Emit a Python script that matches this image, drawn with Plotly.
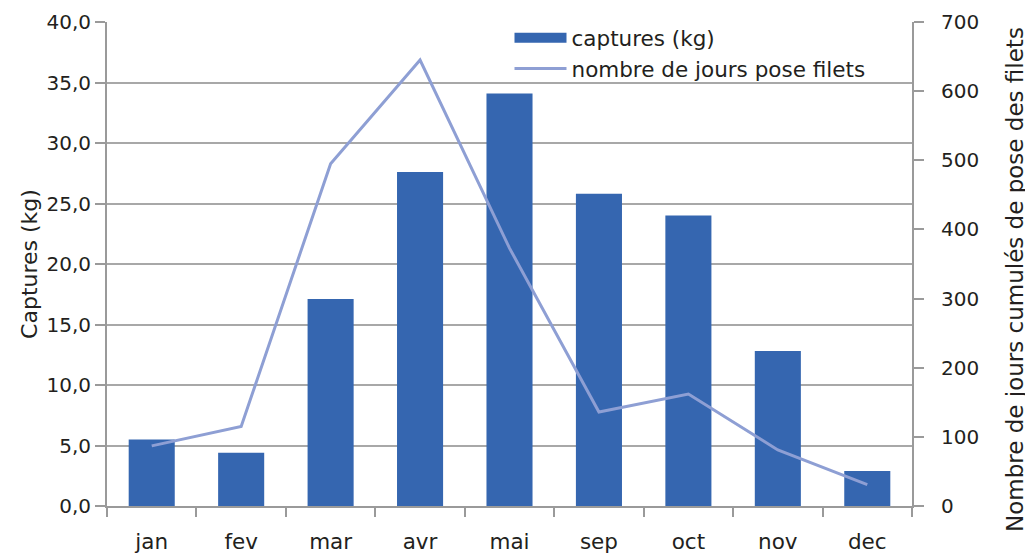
import plotly.graph_objects as go

months = ["jan", "fev", "mar", "avr", "mai", "sep", "oct", "nov", "dec"]
captures_kg = [5.5, 4.4, 17.1, 27.6, 34.1, 25.8, 24.0, 12.8, 2.9]
jours_pose = [87, 115, 495, 645, 373, 136, 162, 81, 31]

left_ticks = [0, 5, 10, 15, 20, 25, 30, 35, 40]
right_ticks = [0, 100, 200, 300, 400, 500, 600, 700]

BAR_COLOR = "#3566b0"
LINE_COLOR = "#8e9fd4"
TEXT_COLOR = "#231f20"
AXIS_COLOR = "#9a9a9a"
FONT = "DejaVu Sans"

fig = go.Figure()
fig.add_trace(go.Bar(
    x=months, y=captures_kg, name="captures (kg)",
    marker=dict(color=BAR_COLOR, line=dict(width=0)),
    showlegend=False,
))
# legend-only entry to render a wide rectangular swatch for the bars
fig.add_trace(go.Scatter(
    x=[None], y=[None], mode="lines", name="captures (kg)",
    line=dict(color=BAR_COLOR, width=12),
))
fig.add_trace(go.Scatter(
    x=months, y=jours_pose, name="nombre de jours pose filets",
    mode="lines", line=dict(color=LINE_COLOR, width=3), yaxis="y2",
))

fig.update_layout(
    width=1025, height=545,
    margin=dict(l=99, r=121, t=14, b=47, autoexpand=False),
    paper_bgcolor="white", plot_bgcolor="white",
    separators=", ",
    font=dict(family=FONT, size=20, color=TEXT_COLOR),
    bargap=0.485,
    showlegend=True,
    legend=dict(
        x=0.5, y=1.01, xanchor="left", yanchor="top",
        bgcolor="rgba(0,0,0,0)", font=dict(size=21.5, color=TEXT_COLOR),
        tracegroupgap=0, itemwidth=52,
    ),
    xaxis=dict(
        type="category", showline=True, linecolor=AXIS_COLOR, linewidth=2,
        ticks="outside", tickson="boundaries", ticklen=9, tickcolor=AXIS_COLOR,
        tickwidth=2, showgrid=False, tickfont=dict(size=21.5),
        ticklabelstandoff=15, automargin=False,
    ),
    yaxis=dict(
        range=[0, 40], tickvals=left_ticks, tickformat=".1f",
        showline=True, linecolor=AXIS_COLOR, linewidth=2,
        ticks="outside", ticklen=10, tickcolor=AXIS_COLOR, tickwidth=2,
        showgrid=True, gridcolor="#a8a8a8", gridwidth=1.5,
        zeroline=False, automargin=False,
        title=dict(text="Captures (kg)", standoff=3, font=dict(size=22)),
        tickfont=dict(size=20),
    ),
    yaxis2=dict(
        overlaying="y", side="right", range=[0, 700], tickvals=right_ticks,
        showline=True, linecolor=AXIS_COLOR, linewidth=2,
        ticks="outside", ticklen=10, tickcolor=AXIS_COLOR, tickwidth=2,
        showgrid=False, zeroline=False, ticklabelstandoff=13, automargin=False,
        tickfont=dict(size=20),
    ),
    annotations=[dict(
        text="Nombre de jours cumulés de pose des filets",
        xref="paper", yref="paper", x=1, y=0.467, xshift=103,
        xanchor="center", yanchor="middle", textangle=-90, showarrow=False,
        font=dict(size=23, color=TEXT_COLOR),
    )],
)

fig.write_html("out.html")
